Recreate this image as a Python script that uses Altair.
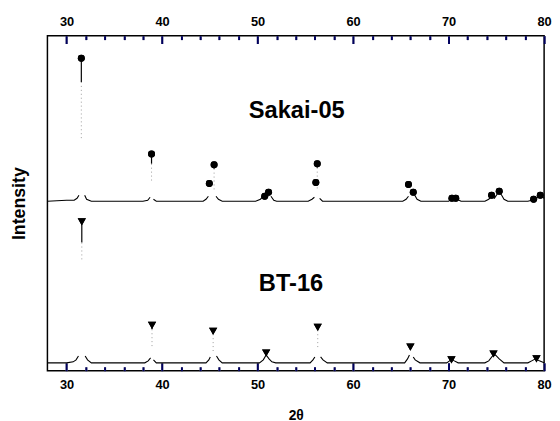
import altair as alt
import pandas as pd

# ---------------- data ----------------
# x = 2-theta (deg), y = intensity (arbitrary units, 0..340)
sakai_seg1_x = [28.0, 30.0, 30.8, 31.1, 31.3]
sakai_seg1_y = [172, 173, 173, 175, 178]
sakai_seg2_x = [31.9, 32.1, 32.6, 38.0, 38.5, 38.75]
sakai_seg2_y = [178, 174, 172, 172, 173, 176]
sakai_seg3_x = [39.1, 39.4, 44.3, 44.6, 44.85]
sakai_seg3_y = [174, 172, 172, 174, 177]
sakai_seg4_x = [45.65, 45.9, 46.3, 49.8, 50.3, 50.7]
sakai_seg4_y = [177, 174, 172, 172, 174, 178]
sakai_seg5_x = [51.4, 51.7, 52.0, 55.3, 55.7, 55.95]
sakai_seg5_y = [177, 173, 172, 172, 174, 176]
sakai_seg6_x = [56.5, 56.8, 65.2, 65.55, 65.8]
sakai_seg6_y = [175, 172, 172, 174, 177]
sakai_seg7_x = [66.4, 66.7, 67.1, 70.0, 70.3, 70.6, 70.9, 71.3, 73.8, 74.2, 74.5,
                74.8, 75.2, 75.5, 75.8, 76.2, 78.3, 78.7, 79.0, 79.4, 79.7, 80.0]
sakai_seg7_y = [179, 174, 172, 172, 174, 175, 174, 172, 172, 174, 177,
                175, 181, 179, 174, 172, 172, 173, 174, 176, 177, 175]

bt_seg1_x = [28.0, 30.0, 30.7, 31.0, 31.25]
bt_seg1_y = [8, 8, 9, 11, 15]
bt_seg2_x = [31.95, 32.2, 32.6, 38.2, 38.55, 38.8]
bt_seg2_y = [15, 11, 8, 8, 10, 13]
bt_seg3_x = [39.1, 39.4, 44.6, 44.9, 45.05]
bt_seg3_y = [11, 8, 8, 11, 14]
bt_seg4_x = [45.7, 45.95, 46.3, 50.2, 50.6, 50.9, 51.2, 51.5, 51.9, 55.5, 55.8, 56.0]
bt_seg4_y = [15, 11, 8, 8, 11, 16, 12, 9, 8, 8, 11, 14]
bt_seg5_x = [56.6, 56.85, 57.3, 65.4, 65.7, 65.9]
bt_seg5_y = [14, 11, 8, 8, 12, 16]
bt_seg6_x = [66.3, 66.5, 67.0, 69.8, 70.1, 70.3, 70.6, 71.0, 73.8, 74.2, 74.6,
             74.9, 75.3, 75.8, 78.3, 78.7, 79.1, 79.5, 80.0]
bt_seg6_y = [14, 11, 8, 8, 10, 12, 10, 8, 8, 10, 15,
             16, 12, 8, 8, 10, 12, 10, 8]

# peak markers
sakai_mark_x = [31.55, 38.9, 44.95, 45.45, 50.75, 51.15, 56.1, 56.25, 65.8, 66.3,
                70.35, 70.75, 74.5, 75.3, 78.9, 79.6]
sakai_mark_y = [317, 220, 190, 209, 177, 181, 191, 210, 189, 181,
                175, 175, 178, 182, 174, 178]
bt_mark_x = [31.6, 38.95, 45.35, 50.9, 56.3, 66.0, 70.3, 74.7, 79.2]
bt_mark_y = [151, 46, 40, 18, 44, 24, 11, 17, 12]

# visible parts of the strong peak lines
peak_x = [31.55, 38.9, 45.45, 56.25, 31.6, 38.95, 45.35, 56.3]
peak_top = [317, 220, 209, 210, 151, 46, 40, 44]
peak_solid_low = [293, 210, 205, 206, 130, 42, 37, 41]
peak_faint_low = [236, 190, 183, 183, 111, 23, 18, 21]

labels_text = ["Sakai-05", "BT-16"]
labels_x = [54.1, 53.5]
labels_y = [263, 88]

major_ticks = [30, 40, 50, 60, 70, 80]
minor_ticks = [32, 34, 36, 38, 42, 44, 46, 48, 52, 54, 56, 58,
               62, 64, 66, 68, 72, 74, 76, 78]

# ---------------- tables ----------------
rows = []
segs = [
    ("S1", sakai_seg1_x, sakai_seg1_y), ("S2", sakai_seg2_x, sakai_seg2_y),
    ("S3", sakai_seg3_x, sakai_seg3_y), ("S4", sakai_seg4_x, sakai_seg4_y),
    ("S5", sakai_seg5_x, sakai_seg5_y), ("S6", sakai_seg6_x, sakai_seg6_y),
    ("S7", sakai_seg7_x, sakai_seg7_y),
    ("B1", bt_seg1_x, bt_seg1_y), ("B2", bt_seg2_x, bt_seg2_y),
    ("B3", bt_seg3_x, bt_seg3_y), ("B4", bt_seg4_x, bt_seg4_y),
    ("B5", bt_seg5_x, bt_seg5_y), ("B6", bt_seg6_x, bt_seg6_y),
]
for key, xs, ys in segs:
    for i, (xv, yv) in enumerate(zip(xs, ys)):
        rows.append({"key": key, "i": i, "x": xv, "y": yv})
df_line = pd.DataFrame(rows)
df_sakai = pd.DataFrame({"x": sakai_mark_x, "y": sakai_mark_y})
df_bt = pd.DataFrame({"x": bt_mark_x, "y": bt_mark_y})
df_peak = pd.DataFrame({"x": peak_x, "top": peak_top, "solid": peak_solid_low,
                        "faint": peak_faint_low})
df_text = pd.DataFrame({"x": labels_x, "y": labels_y, "t": labels_text})

FONT = "Liberation Sans"
x_scale = alt.Scale(domain=[28, 80], nice=False, zero=False)
y_scale = alt.Scale(domain=[0, 340], nice=False, zero=False)

label_style = dict(labelFont=FONT, labelFontSize=13, labelFontWeight="bold",
                   labelColor="black", labelFlush=False, format="d")


def tick_axis(orient, vals, size, color, labels=False, title=None, **extra):
    opts = dict(orient=orient, values=vals, offset=-size, tickSize=size,
                tickColor=color, tickWidth=2, domain=False, gridOpacity=0,
                labels=labels, title=title)
    opts.update(extra)
    return alt.Axis(**opts)


# grey ticks underneath, dark navy ticks drawn over them
ax_bottom_major = tick_axis("bottom", major_ticks, 8, "#888888", labels=True,
                            title="2θ", labelPadding=8, titleFont=FONT,
                            titleFontSize=14, titleFontWeight="bold",
                            titleColor="black", titlePadding=17, **label_style)
ax_bottom_minor = tick_axis("bottom", minor_ticks, 4, "#888888")
ax_top_major = tick_axis("top", major_ticks, 8, "#888888", labels=True,
                         labelPadding=7, **label_style)
ax_top_minor = tick_axis("top", minor_ticks, 4, "#888888")
ax_bottom_major_d = tick_axis("bottom", major_ticks, 8, "#000060")
ax_bottom_minor_d = tick_axis("bottom", minor_ticks, 4, "#000060")
ax_top_major_d = tick_axis("top", major_ticks, 8, "#000060")
ax_top_minor_d = tick_axis("top", minor_ticks, 4, "#000060")

ax_y = alt.Axis(title="Intensity", ticks=False, labels=False, domain=False, grid=False,
                titleFont=FONT, titleFontSize=18, titleFontWeight="bold",
                titleColor="black", titlePadding=19)

line = alt.Chart(df_line).mark_line(color="black", strokeWidth=1.1).encode(
    x=alt.X("x:Q", scale=x_scale, axis=ax_bottom_major),
    y=alt.Y("y:Q", scale=y_scale, axis=ax_y),
    detail="key:N",
    order="i:Q",
)
sakai_pts = alt.Chart(df_sakai).mark_point(
    shape="circle", filled=True, size=50, color="black", opacity=1
).encode(
    x=alt.X("x:Q", scale=x_scale, axis=ax_bottom_minor),
    y=alt.Y("y:Q", scale=y_scale, axis=None),
)
bt_pts = alt.Chart(df_bt).mark_point(
    shape="triangle-down", filled=True, size=70, color="black", opacity=1
).encode(
    x=alt.X("x:Q", scale=x_scale, axis=ax_top_major),
    y=alt.Y("y:Q", scale=y_scale, axis=None),
)
solid = alt.Chart(df_peak).mark_rule(color="black", strokeWidth=1.2).encode(
    x=alt.X("x:Q", scale=x_scale, axis=ax_top_minor),
    y=alt.Y("top:Q", scale=y_scale, axis=None),
    y2="solid:Q",
)
faint = alt.Chart(df_peak).mark_rule(color="#9a9a9a", strokeWidth=1, strokeDash=[1, 3]).encode(
    x=alt.X("x:Q", scale=x_scale, axis=ax_bottom_major_d),
    y=alt.Y("solid:Q", scale=y_scale, axis=None),
    y2="faint:Q",
)
text = alt.Chart(df_text).mark_text(
    font=FONT, fontSize=24, fontWeight="bold", color="black",
    align="center", baseline="middle"
).encode(
    x=alt.X("x:Q", scale=x_scale, axis=ax_bottom_minor_d),
    y=alt.Y("y:Q", scale=y_scale, axis=None),
    text="t:N",
)
# repeat the marker layers to carry the dark top axes
sakai_pts2 = alt.Chart(df_sakai).mark_point(
    shape="circle", filled=True, size=50, color="black", opacity=1
).encode(
    x=alt.X("x:Q", scale=x_scale, axis=ax_top_major_d),
    y=alt.Y("y:Q", scale=y_scale, axis=None),
)
bt_pts2 = alt.Chart(df_bt).mark_point(
    shape="triangle-down", filled=True, size=70, color="black", opacity=1
).encode(
    x=alt.X("x:Q", scale=x_scale, axis=ax_top_minor_d),
    y=alt.Y("y:Q", scale=y_scale, axis=None),
)

chart = (
    alt.layer(line, sakai_pts, bt_pts, solid, faint, text, sakai_pts2, bt_pts2)
    .resolve_scale(x="shared", y="shared")
    .resolve_axis(x="independent", y="independent")
    .properties(
        width=504, height=340,
        padding={"left": 40, "top": 25, "right": 8, "bottom": 50},
        autosize=alt.AutoSizeParams(type="none"),
        background="white",
    )
    .configure_view(stroke="black", strokeWidth=1.5)
)

chart.save("out.html", embed_options={"renderer": "svg", "actions": False})
